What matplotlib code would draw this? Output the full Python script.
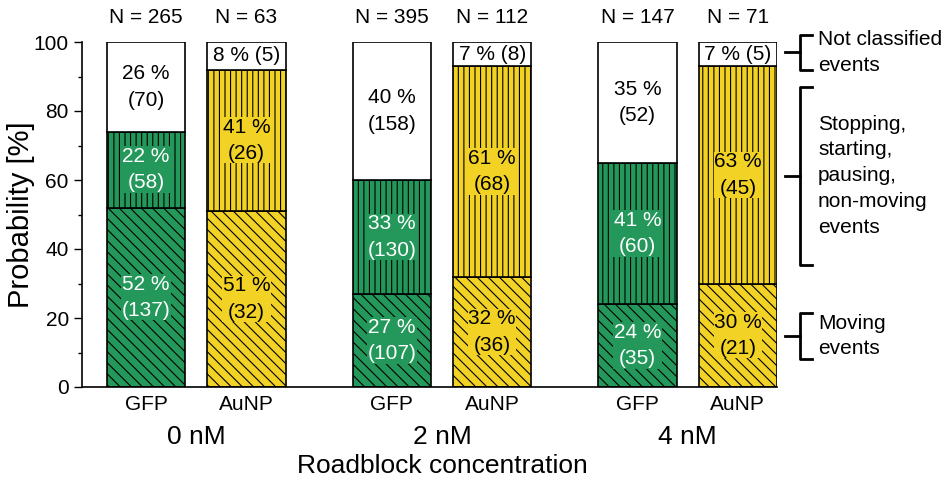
import matplotlib.pyplot as plt
import matplotlib.transforms as mtransforms
from matplotlib.ticker import MultipleLocator

plt.rcParams['font.family'] = ['Liberation Sans', 'DejaVu Sans']
plt.rcParams['hatch.linewidth'] = 0.8

# data: per bar, segments bottom->top = moving, stopping, not classified
bar_names = ['GFP', 'AuNP', 'GFP', 'AuNP', 'GFP', 'AuNP']
groups = ['0 nM', '2 nM', '4 nM']
moving_pct = [52, 51, 27, 32, 24, 30]
stopping_pct = [22, 41, 33, 61, 41, 63]
notcls_pct = [26, 8, 40, 7, 35, 7]
moving_n = [137, 32, 107, 36, 35, 21]
stopping_n = [58, 26, 130, 68, 60, 45]
notcls_n = [70, 5, 158, 8, 52, 5]
totals = [265, 63, 395, 112, 147, 71]

green = '#23985a'
yellow = '#f2d325'
fills = [green, yellow] * 3
txtcol = ['white', 'black'] * 3

xpos = [0, 1, 2.45, 3.45, 4.9, 5.9]
width = 0.78

fig = plt.figure(figsize=(9.51, 4.82), dpi=100)
ax = fig.add_axes([82 / 951, 1 - 387 / 482, 695 / 951, 345 / 482])

for i in range(6):
    x = xpos[i]
    ax.bar(x, moving_pct[i], width, color=fills[i], edgecolor='black', lw=1.2, hatch='\\\\\\')
    ax.bar(x, stopping_pct[i], width, bottom=moving_pct[i], color=fills[i],
           edgecolor='black', lw=1.2, hatch='|||')
    top_b = moving_pct[i] + stopping_pct[i]
    ax.bar(x, notcls_pct[i], width, bottom=top_b, color='white', edgecolor='black', lw=1.2)

    # segment labels
    ax.text(x, moving_pct[i] / 2, f'{moving_pct[i]} %\n({moving_n[i]})', ha='center', va='center',
            fontsize=15, color=txtcol[i], linespacing=1.5,
            bbox=dict(facecolor=fills[i], edgecolor='none', pad=0.3))
    ax.text(x, moving_pct[i] + stopping_pct[i] / 2, f'{stopping_pct[i]} %\n({stopping_n[i]})',
            ha='center', va='center', fontsize=15, color=txtcol[i], linespacing=1.5,
            bbox=dict(facecolor=fills[i], edgecolor='none', pad=0.3))
    if notcls_pct[i] < 15:
        ax.text(x, top_b + notcls_pct[i] / 2, f'{notcls_pct[i]} % ({notcls_n[i]})',
                ha='center', va='center', fontsize=15)
    else:
        ax.text(x, top_b + notcls_pct[i] / 2, f'{notcls_pct[i]} %\n({notcls_n[i]})',
                ha='center', va='center', fontsize=15, linespacing=1.5)
    ax.text(x, 107, f'N = {totals[i]}', ha='center', va='center', fontsize=15, clip_on=False)

ax.set_xlim(-0.64, 6.29)
ax.set_ylim(0, 100)
ax.set_xticks(xpos)
ax.set_xticklabels(bar_names, fontsize=15)
ax.tick_params(axis='x', length=0, pad=6)
ax.yaxis.set_major_locator(MultipleLocator(20))
ax.yaxis.set_minor_locator(MultipleLocator(10))
ax.tick_params(axis='y', which='major', length=6, width=1, labelsize=15, direction='out')
ax.tick_params(axis='y', which='minor', length=3, width=1, direction='out')
ax.spines['top'].set_visible(False)
ax.spines['right'].set_visible(False)
ax.spines['left'].set_linewidth(1.2)
ax.spines['bottom'].set_linewidth(1.2)
ax.set_ylabel('Probability [%]', fontsize=21)
ax.yaxis.set_label_coords(-0.068, 0.5)

trans = mtransforms.blended_transform_factory(ax.transData, ax.transAxes)
for g in range(3):
    cx = (xpos[2 * g] + xpos[2 * g + 1]) / 2
    ax.text(cx, -0.145, groups[g], transform=trans, ha='center', va='center', fontsize=19)
ax.text((xpos[0] + xpos[-1]) / 2, -0.228, 'Roadblock concentration', transform=trans,
        ha='center', va='center', fontsize=19)

# brackets on the right
btrans = mtransforms.blended_transform_factory(ax.transAxes, ax.transData)
xv = (800 - 82) / 695
xa = (812 - 82) / 695
xs = (785 - 82) / 695
xt = (818 - 82) / 695
brackets = [(102, 92, 'Not classified\nevents'),
            (87, 35.5, 'Stopping,\nstarting,\npausing,\nnon-moving\nevents'),
            (21.5, 8, 'Moving\nevents')]
for top, bot, lab in brackets:
    mid = (top + bot) / 2
    ax.plot([xa, xv, xv, xa], [top, top, bot, bot], color='black', lw=2,
            transform=btrans, clip_on=False)
    ax.plot([xs, xv], [mid, mid], color='black', lw=2, transform=btrans, clip_on=False)
    ax.text(xt, mid, lab, transform=btrans, ha='left', va='center', fontsize=15,
            linespacing=1.45, clip_on=False)

fig.savefig('out.png', dpi=100)
